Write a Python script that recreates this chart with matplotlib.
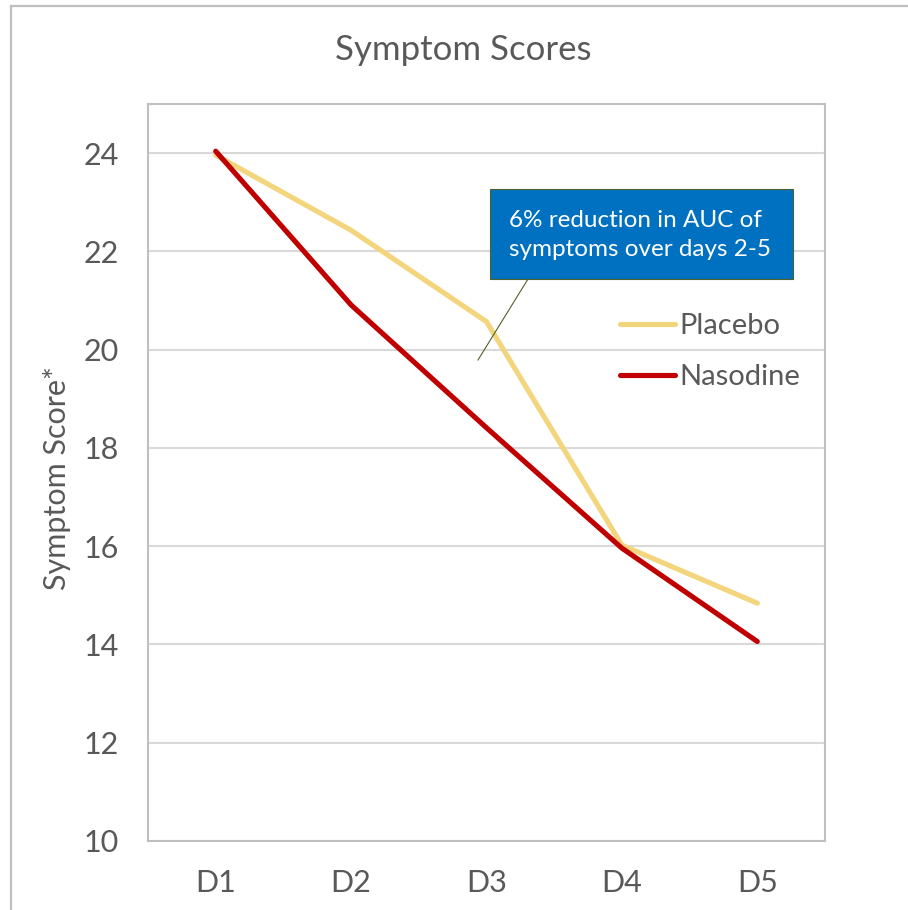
import matplotlib
matplotlib.use("Agg")
import matplotlib.pyplot as plt
from matplotlib.lines import Line2D
from matplotlib.patches import Rectangle

days = ["D1", "D2", "D3", "D4", "D5"]
placebo = [23.96, 22.43, 20.57, 16.02, 14.84]
nasodine = [24.04, 20.91, 18.41, 15.96, 14.06]
yticks = [10, 12, 14, 16, 18, 20, 22, 24]

FONT = ["Lato", "DejaVu Sans"]
plt.rcParams["font.family"] = FONT
TXT = "#595959"

W, H = 908, 910
fig = plt.figure(figsize=(W / 100, H / 100), dpi=100)

def fx(px):
    return px / W

def fy(py):
    return 1 - py / H

# outer chart border (top and left visible)
fig.add_artist(Line2D([fx(11), 1.0], [fy(6), fy(6)], color="#BFBFBF", lw=1.6))
fig.add_artist(Line2D([fx(11), fx(11)], [fy(6), 0.0], color="#BFBFBF", lw=1.6))

ax = fig.add_axes([fx(148), fy(841), fx(825) - fx(148), fy(104) - fy(841)])
x = list(range(len(days)))
ax.plot(x, placebo, color="#F2D57C", lw=3.7, solid_capstyle="round",
        solid_joinstyle="round", label="Placebo", zorder=3)
ax.plot(x, nasodine, color="#C00000", lw=3.7, solid_capstyle="round",
        solid_joinstyle="round", label="Nasodine", zorder=4)

ax.set_xlim(-0.5, len(days) - 0.5)
ax.set_ylim(10, 25)
ax.set_xticks(x)
ax.set_xticklabels(days)
ax.set_yticks(yticks)
ax.tick_params(axis="both", length=0, labelsize=22, labelcolor=TXT)
ax.tick_params(axis="x", pad=20)
ax.tick_params(axis="y", pad=21)
ax.grid(axis="y", color="#D9D9D9", lw=1.5)
ax.set_axisbelow(True)
for s in ax.spines.values():
    s.set_color("#BFBFBF")
    s.set_linewidth(1.5)

ax.set_ylabel("Symptom Score*", fontsize=22, color=TXT, va="center")
ax.yaxis.set_label_coords((57 - 148) / 677, 0.492)

fig.text(fx(463), fy(50), "Symptom Scores", ha="center", va="center",
         fontsize=25, color=TXT)

leg = ax.legend(loc="upper left", bbox_to_anchor=(fx(620), fy(313)),
                bbox_transform=fig.transFigure, frameon=False, fontsize=21,
                handlelength=1.88, handletextpad=0.17, labelspacing=0.86,
                borderaxespad=0, borderpad=0)
for t in leg.get_texts():
    t.set_color(TXT)

# callout
fig.add_artist(Line2D([fx(528), fx(478)], [fy(279), fy(360)],
                      color="#4F6228", lw=0.8, zorder=5))
fig.add_artist(Rectangle((fx(490), fy(279)), fx(793) - fx(490), fy(189) - fy(279),
                         transform=fig.transFigure, facecolor="#0070C0",
                         edgecolor="#4F6228", lw=0.8, zorder=6))
fig.text(fx(509), fy(235), "6% reduction in AUC of\nsymptoms over days 2-5",
         ha="left", va="center", fontsize=17.5, color="white",
         linespacing=1.5, zorder=7)

fig.savefig("out.png", dpi=100)
